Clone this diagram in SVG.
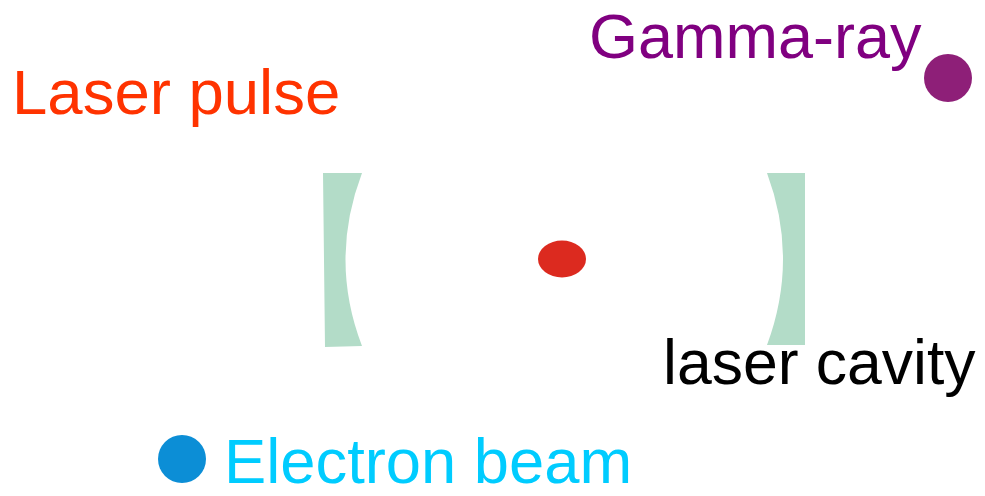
<svg xmlns="http://www.w3.org/2000/svg" width="985" height="496" viewBox="0 0 985 496">
<style>
text{font-family:"Liberation Sans",Arial,sans-serif;font-size:63px}
.mirror{fill:#b3dcc8}
</style>
<rect width="985" height="496" fill="#fff"/>
<g id="left-mirror"><path class="mirror" d="M323,173 L362,173 Q329,260 362,346 L325,347 Z"/></g>
<g id="right-mirror"><path class="mirror" d="M767,173 L805,173 L805,345 L767,345 Q799,259 767,173 Z"/></g>
<g id="laser-pulse-dot"><ellipse cx="562" cy="259" rx="24" ry="18.5" fill="#dc2a1f"/></g>
<g id="gamma-dot"><circle cx="948" cy="78" r="24" fill="#8e1f78"/></g>
<g id="electron-dot"><circle cx="182" cy="459" r="24" fill="#0c8ed6"/></g>
<g id="labels">
<text x="12" y="114" fill="#ff3300" style="font-size:63.5px">Laser pulse</text>
<text x="589" y="58" fill="#800080">Gamma-ray</text>
<text x="663" y="384" fill="#000" style="font-size:62.5px">laser cavity</text>
<text x="224" y="483" fill="#00ccff" style="font-size:63.3px">Electron beam</text>
</g>
<g id="connectors"/>
</svg>
